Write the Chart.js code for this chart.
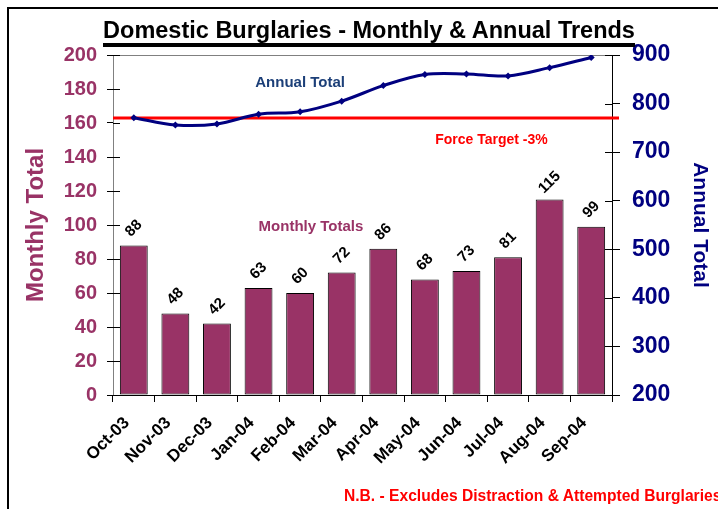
<!DOCTYPE html>
<html>
<head>
<meta charset="utf-8">
<script src="https://cdn.jsdelivr.net/npm/chart.js@4/dist/chart.umd.min.js"></script>
<style>
html, body { margin:0; padding:0; background:#fff; overflow:hidden; }
#wrap { position:relative; width:718px; height:509px; }
#frame { position:absolute; left:7px; top:7px; width:800px; height:600px; border:2px solid #000; box-sizing:border-box; }
#title { position:absolute; left:0; width:738px; top:17px; text-align:center; font:bold 23.5px "Liberation Sans", Arial, sans-serif; color:#000; }
#title span { border-bottom:4px solid #000; padding:0 0 0 0; line-height:25px; display:inline-block; }
#note { position:absolute; left:344px; top:487px; white-space:nowrap; font:bold 16px "Liberation Sans", Arial, sans-serif; color:#ff0000; transform:scaleX(0.975); transform-origin:left top; }
canvas { position:absolute; left:0; top:0; }
</style>
</head>
<body>
<div id="wrap">
<div id="frame"></div>
<canvas id="chart" width="718" height="509"></canvas>
<div id="title"><span>Domestic Burglaries - Monthly &amp; Annual Trends</span></div>
<div id="note">N.B. - Excludes Distraction &amp; Attempted Burglaries</div>
</div>
<script>

const months = ["Oct-03","Nov-03","Dec-03","Jan-04","Feb-04","Mar-04","Apr-04","May-04","Jun-04","Jul-04","Aug-04","Sep-04"]
const monthlyTotals = [88,48,42,63,60,72,86,68,73,81,115,99]
const annualTotals = [771,756,758,778,783,805,837,860,861,857,874,895]
const forceTarget = 163

const maroon = "#993366"
const navy = "#000080"
const font = "'Liberation Sans', Arial, sans-serif"

// bar value labels, target line, plot border, inner tick marks and captions
const extras = {
id:"extras",
beforeDatasetsDraw(chart){
const ctx = chart.ctx
const a = chart.chartArea
const y = chart.scales.y.getPixelForValue(forceTarget)
ctx.save()
ctx.strokeStyle = "#808080"
ctx.lineWidth = 1
ctx.beginPath()
ctx.moveTo(a.left, a.top + 0.5)
ctx.lineTo(a.right, a.top + 0.5)
ctx.stroke()
ctx.strokeStyle = "#000"
ctx.beginPath()
chart.scales.y.ticks.forEach(t => {
const ty = Math.round(chart.scales.y.getPixelForValue(t.value)) + 0.5
ctx.moveTo(a.left, ty)
ctx.lineTo(a.left + 7, ty)
})
chart.scales.y1.ticks.forEach(t => {
const ty = Math.round(chart.scales.y1.getPixelForValue(t.value)) + 0.5
ctx.moveTo(a.right - 7, ty)
ctx.lineTo(a.right, ty)
})
ctx.stroke()
ctx.strokeStyle = "#ff0000"
ctx.lineWidth = 3
ctx.beginPath()
ctx.moveTo(a.left, y)
ctx.lineTo(a.right + 7, y)
ctx.stroke()
ctx.restore()
},
afterDatasetsDraw(chart){
const ctx = chart.ctx
const meta = chart.getDatasetMeta(1)
const x = chart.scales.x
ctx.save()
ctx.font = "bold 15px " + font
ctx.fillStyle = "#000"
ctx.textAlign = "center"
ctx.textBaseline = "middle"
meta.data.forEach((bar, i) => {
ctx.save()
ctx.translate(bar.x, bar.y - 17)
ctx.rotate(-Math.PI / 4)
ctx.fillText(String(monthlyTotals[i]), 0, 0)
ctx.restore()
})
ctx.font = "bold 15px " + font
ctx.fillStyle = "#1c3f78"
ctx.fillText("Annual Total", x.getPixelForValue(4.0), chart.scales.y1.getPixelForValue(843))
ctx.fillStyle = maroon
ctx.fillText("Monthly Totals", x.getPixelForValue(4.26), chart.scales.y.getPixelForValue(99))
ctx.font = "bold 14px " + font
ctx.fillStyle = "#ff0000"
ctx.fillText("Force Target -3%", x.getPixelForValue(8.6), chart.scales.y.getPixelForValue(150))
ctx.restore()
}
}

new Chart(
document.getElementById("chart"),
{
type:"bar",
data:{
labels:months,
datasets:[
{
type:"line",
label:"Annual Total",
data:annualTotals,
yAxisID:"y1",
borderColor:navy,
backgroundColor:navy,
borderWidth:3,
tension:0.35,
pointStyle:"rectRot",
pointRadius:3.5,
pointBorderWidth:0,
order:0
},
{
label:"Monthly Totals",
data:monthlyTotals,
yAxisID:"y",
backgroundColor:maroon,
borderColor:"#000",
borderWidth:1,
borderSkipped:false,
categoryPercentage:1,
barPercentage:0.67,
order:1
}
]
},
options:{
responsive:false,
animation:false,
layout:{ padding:{ top:55, left:8, right:0, bottom:0 } },
plugins:{ legend:{ display:false }, tooltip:{ enabled:false } },
scales:{
x:{
grid:{ drawOnChartArea:false, color:"#000", tickLength:7 },
border:{ color:"#000" },
ticks:{ color:"#000", font:{ family:font, weight:"bold", size:17 }, maxRotation:45, minRotation:45, padding:11, labelOffset:-7 },
afterFit(s){ s.height = 114 }
},
y:{
position:"left",
min:0, max:200,
ticks:{ stepSize:20, color:maroon, font:{ family:font, weight:"bold", size:20 }, padding:10 },
grid:{ drawOnChartArea:false, color:"#000", tickLength:6 },
border:{ color:"#808080" },
title:{ display:true, text:"Monthly Total", color:maroon, font:{ family:font, weight:"bold", size:24 }, padding:{ top:14, bottom:0 } },
afterFit(s){ s.width = 105 }
},
y1:{
position:"right",
min:200, max:900,
ticks:{ stepSize:100, color:navy, font:{ family:font, weight:"bold", size:23 }, padding:12 },
grid:{ drawOnChartArea:false, color:"#000", tickLength:8 },
border:{ color:"#000" },
title:{ display:true, text:"Annual Total", color:navy, font:{ family:font, weight:"bold", size:21 }, padding:{ top:6, bottom:4 } },
afterFit(s){ s.width = 106 }
}
}
},
plugins:[extras]
}
)

</script>
</body>
</html>
